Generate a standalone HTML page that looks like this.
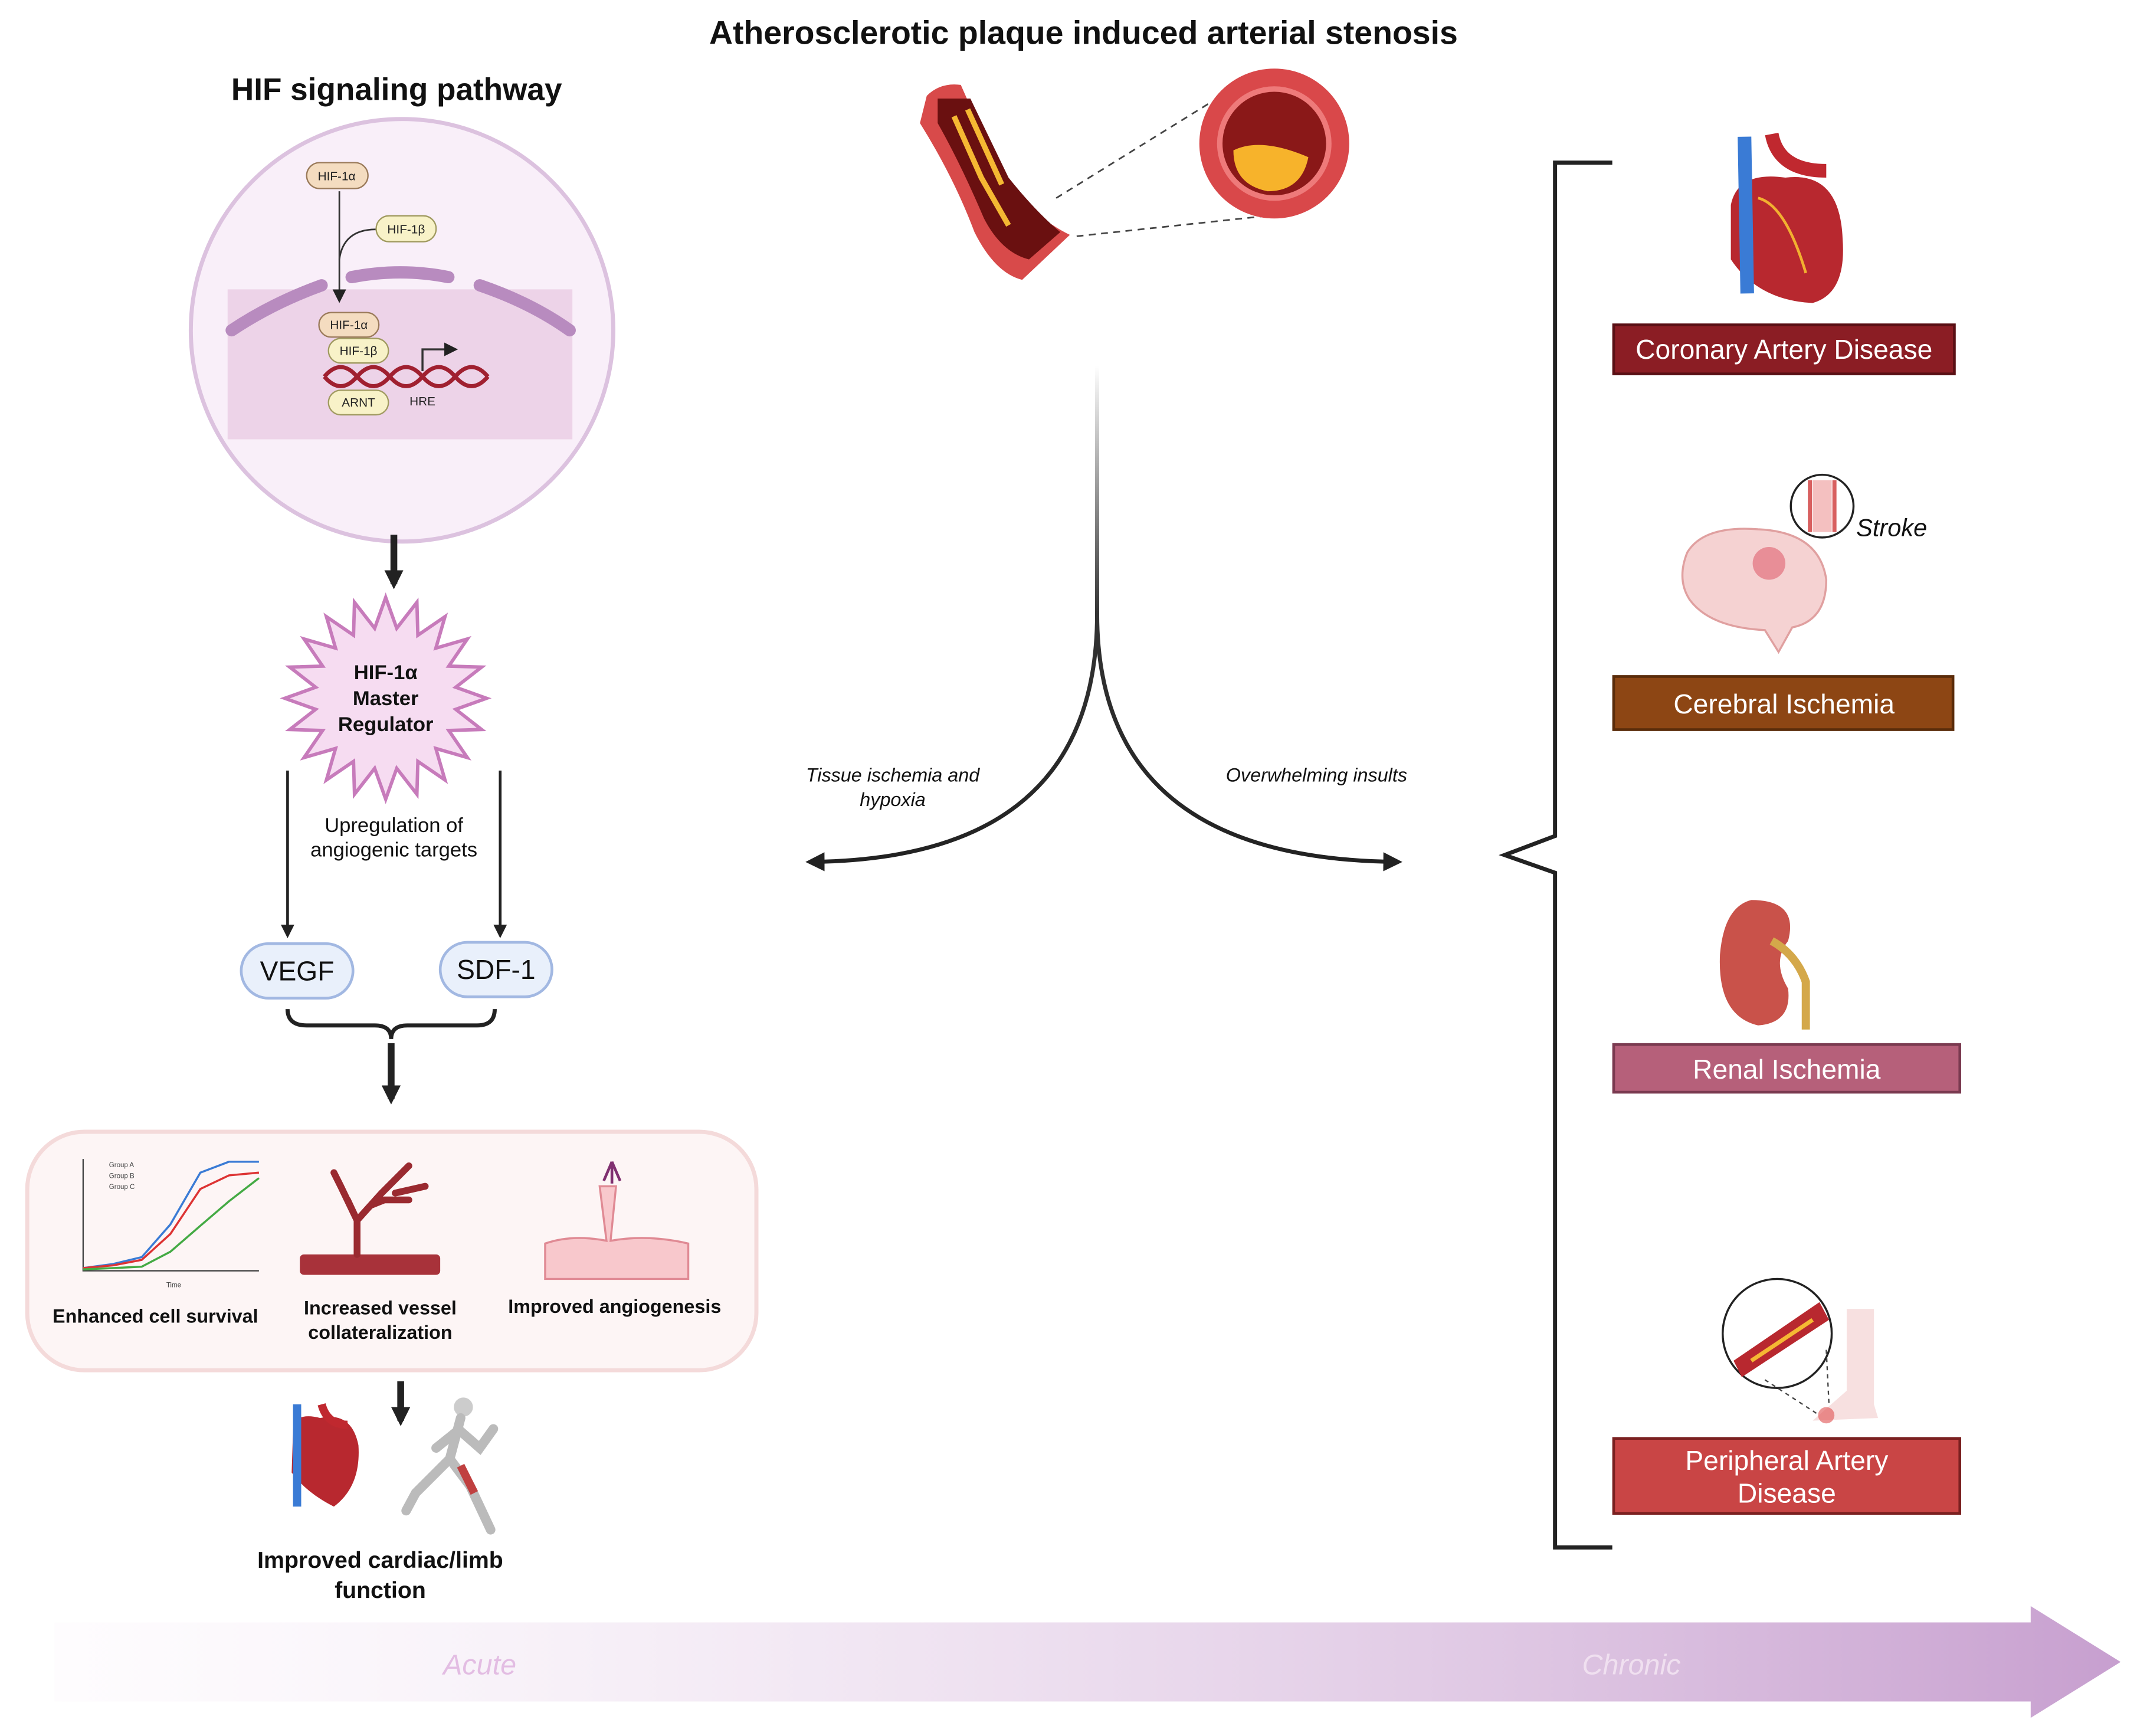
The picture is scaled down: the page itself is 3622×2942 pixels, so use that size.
<!DOCTYPE html>
<html><head><meta charset="utf-8"><style>html,body{margin:0;padding:0;background:#fff}svg{display:block}text{font-family:"Liberation Sans",sans-serif}</style></head>
<body>
<svg width="3622" height="2942" viewBox="0 0 1568 1273" xmlns="http://www.w3.org/2000/svg">
<defs>
<linearGradient id="tl" x1="0" x2="1"><stop offset="0" stop-color="#fbf5fb" stop-opacity="0.3"/><stop offset="1" stop-color="#c79fcf"/></linearGradient>
<linearGradient id="vl" x1="0" y1="0" x2="0" y2="1"><stop offset="0" stop-color="#fff"/><stop offset="0.5" stop-color="#333"/><stop offset="1" stop-color="#222"/></linearGradient>
<marker id="ah" markerWidth="10" markerHeight="10" refX="8" refY="5" orient="auto" markerUnits="userSpaceOnUse"><path d="M0,0 L10,5 L0,10 z" fill="#222"/></marker>
<marker id="ab" markerWidth="14" markerHeight="14" refX="10" refY="7" orient="auto" markerUnits="userSpaceOnUse"><path d="M0,0 L14,7 L0,14 z" fill="#222"/></marker>
</defs>
<rect width="1568" height="1273" fill="#fff"/>
<text x="795" y="32" font-size="24" font-weight="bold" text-anchor="middle" fill="#111">Atherosclerotic plaque induced arterial stenosis</text>
<text x="291" y="73" font-size="23" font-weight="bold" text-anchor="middle" fill="#111">HIF signaling pathway</text>
<!-- HIF circle -->
<circle cx="295" cy="242" r="155" fill="#f9eff9" stroke="#dcc2df" stroke-width="3"/>
<path d="M167,212 L420,212 L420,322 L167,322 Z" fill="#edd3e8"/>
<g stroke="#b88bbf" stroke-width="9" stroke-linecap="round" fill="none"><path d="M170,242 Q200,222 236,209"/><path d="M258,203 Q294,196 329,203"/><path d="M352,209 Q390,222 418,242"/></g>
<path d="M249,140 L249,220" stroke="#333" stroke-width="1.2" marker-end="url(#ah)"/>
<path d="M276,168 Q252,168 249,190" stroke="#333" stroke-width="1.2" fill="none"/>
<g font-size="9" text-anchor="middle" fill="#222">
<rect x="225" y="119" width="45" height="19" rx="9.5" fill="#f4dcc0" stroke="#9a7a5a"/><text x="247" y="132">HIF-1α</text>
<rect x="276" y="158" width="44" height="19" rx="9.5" fill="#f8f2c8" stroke="#a09a60"/><text x="298" y="171">HIF-1β</text>
<rect x="234" y="229" width="44" height="18" rx="9" fill="#f4dcc0" stroke="#9a7a5a"/><text x="256" y="241">HIF-1α</text>
<rect x="241" y="248" width="44" height="18" rx="9" fill="#f8f2c8" stroke="#a09a60"/><text x="263" y="260">HIF-1β</text>
<rect x="241" y="286" width="44" height="18" rx="9" fill="#f8f2c8" stroke="#a09a60"/><text x="263" y="298">ARNT</text>
<text x="310" y="297">HRE</text></g>
<path d="M238,276 Q250,262 262,276 T286,276 T310,276 T334,276 T358,276" stroke="#a02030" stroke-width="3" fill="none"/>
<path d="M238,276 Q250,290 262,276 T286,276 T310,276 T334,276 T358,276" stroke="#a02030" stroke-width="3" fill="none"/>
<path d="M310,272 L310,256 L334,256" stroke="#333" stroke-width="1.5" fill="none" marker-end="url(#ah)"/>
<!-- arrow down -->
<path d="M289,392 L289,428" stroke="#222" stroke-width="5" marker-end="url(#ab)"/>
<!-- starburst -->
<polygon id="star" fill="#f6dcf1" stroke="#c77bbb" stroke-width="2.5" points=""/>
<script>
(function(){var p=[],n=20,cx=283,cy=512;for(var i=0;i<2*n;i++){var r=i%2?52:74,a=Math.PI*i/n-Math.PI/2;p.push((cx+r*Math.cos(a)).toFixed(1)+","+(cy+r*Math.sin(a)).toFixed(1));}document.getElementById('star').setAttribute('points',p.join(' '));})();
</script>
<g font-size="15" font-weight="bold" text-anchor="middle" fill="#111"><text x="283" y="498">HIF-1α</text><text x="283" y="517">Master</text><text x="283" y="536">Regulator</text></g>
<path d="M211,565 L211,686" stroke="#222" stroke-width="2" marker-end="url(#ah)"/>
<path d="M367,565 L367,686" stroke="#222" stroke-width="2" marker-end="url(#ah)"/>
<g font-size="15" text-anchor="middle" fill="#111"><text x="289" y="610">Upregulation of</text><text x="289" y="628">angiogenic targets</text></g>
<rect x="177" y="692" width="82" height="40" rx="20" fill="#e9f0fb" stroke="#a2b8e2" stroke-width="2"/>
<text x="218" y="719" font-size="20" text-anchor="middle" fill="#111">VEGF</text>
<rect x="323" y="691" width="82" height="40" rx="20" fill="#e9f0fb" stroke="#a2b8e2" stroke-width="2"/>
<text x="364" y="718" font-size="20" text-anchor="middle" fill="#111">SDF-1</text>
<path d="M211,740 Q211,752 225,752 L275,752 Q287,752 287,762 Q287,752 299,752 L350,752 Q363,752 363,740" stroke="#222" stroke-width="3" fill="none"/>
<path d="M287,765 L287,806" stroke="#222" stroke-width="5" marker-end="url(#ab)"/>
<!-- outcomes box -->
<rect x="20" y="830" width="535" height="175" rx="42" fill="#fdf5f5" stroke="#f4dada" stroke-width="3"/>
<g stroke="#444" stroke-width="1" fill="none"><path d="M61,850 L61,932 L190,932"/></g>
<polyline points="61,930 83,927 104,922 125,898 147,860 168,852 190,852" stroke="#3a7bd5" stroke-width="1.5" fill="none"/>
<polyline points="61,930 83,928 104,924 125,905 147,872 168,862 190,860" stroke="#d33" stroke-width="1.5" fill="none"/>
<polyline points="61,931 83,930 104,929 125,918 147,899 168,881 190,864" stroke="#4a4" stroke-width="1.5" fill="none"/>
<g font-size="5" fill="#444"><text x="80" y="856">Group A</text><text x="80" y="864">Group B</text><text x="80" y="872">Group C</text><text x="122" y="944">Time</text></g>
<rect x="220" y="920" width="103" height="15" rx="3" fill="#a8323a"/>
<path d="M262,920 L262,895 L250,870 M262,895 L280,875 L290,865 M272,884 L282,880 L300,880 M290,865 L300,855 M250,870 L245,860 M262,895 L255,880 M290,875 L312,870" stroke="#9a2a30" stroke-width="5" fill="none" stroke-linecap="round"/>
<path d="M400,912 Q420,905 445,910 L440,870 L452,870 L448,910 Q475,905 505,912 L505,938 L400,938 Z" fill="#f8c8cc" stroke="#e08a94" stroke-width="1.5"/>
<path d="M449,852 L443,866 M449,852 L455,866 M449,852 L449,868" stroke="#803070" stroke-width="2"/>
<g font-size="14" font-weight="bold" text-anchor="middle" fill="#111"><text x="114" y="970">Enhanced cell survival</text><text x="279" y="964">Increased vessel</text><text x="279" y="982">collateralization</text><text x="451" y="963">Improved angiogenesis</text></g>
<path d="M294,1013 L294,1042" stroke="#222" stroke-width="5" marker-end="url(#ab)"/>
<!-- heart small -->
<path d="M215,1050 Q215,1035 235,1040 Q258,1035 263,1060 Q265,1090 245,1105 Q225,1095 214,1080 Z" fill="#b8282f"/>
<path d="M218,1030 L218,1105" stroke="#3a7bd5" stroke-width="6"/>
<path d="M236,1030 Q240,1045 255,1045" stroke="#c0282f" stroke-width="6" fill="none"/>
<!-- runner -->
<circle cx="340" cy="1032" r="7" fill="#ccc"/>
<path d="M338,1040 L330,1070 L305,1095 L298,1108 M330,1070 L345,1090 L360,1122 M335,1050 L320,1062 M336,1048 L352,1062 L362,1048" stroke="#bbb" stroke-width="7" fill="none" stroke-linecap="round"/>
<path d="M338,1075 L348,1095" stroke="#c04040" stroke-width="6"/>
<g font-size="17" font-weight="bold" text-anchor="middle" fill="#111"><text x="279" y="1150">Improved cardiac/limb</text><text x="279" y="1172">function</text></g>
<!-- artery -->
<path d="M680,70 Q690,60 705,62 L735,130 Q760,160 785,172 L750,205 Q730,200 715,170 Q700,130 675,90 Z" fill="#d84a4a"/>
<path d="M688,72 L712,72 L740,130 Q760,155 778,170 L755,190 Q735,185 722,160 Q705,120 688,90 Z" fill="#6a1010"/>
<path d="M700,85 L720,130 L740,165 M710,80 L735,135" stroke="#f5b833" stroke-width="4" fill="none"/>
<path d="M775,145 L888,75 M790,173 L930,158" stroke="#444" stroke-width="1.2" stroke-dasharray="5,4"/>
<circle cx="935" cy="105" r="55" fill="#d9484a"/>
<circle cx="935" cy="105" r="40" fill="#8a1818" stroke="#ee7a7a" stroke-width="4"/>
<path d="M905,110 Q925,100 960,115 Q955,140 930,140 Q905,135 905,110 Z" fill="#f7b32b"/>
<!-- bifurcation -->
<path d="M805,268 L805,450 Q805,630 595,632" stroke="url(#vl)" stroke-width="3" fill="none" marker-end="url(#ab)"/>
<path d="M805,268 L805,450 Q805,630 1025,632" stroke="url(#vl)" stroke-width="3" fill="none" marker-end="url(#ab)"/>
<g font-size="14" font-style="italic" fill="#111" text-anchor="middle"><text x="655" y="573">Tissue ischemia and</text><text x="655" y="591">hypoxia</text><text x="966" y="573">Overwhelming insults</text></g>
<!-- right brace -->
<path d="M1183,119 L1141,119 L1141,613 L1104,627 L1141,640 L1141,1135 L1183,1135" stroke="#222" stroke-width="3" fill="none"/>
<!-- heart big -->
<path d="M1270,150 Q1275,125 1310,130 Q1350,125 1352,175 Q1355,215 1330,222 Q1290,220 1270,190 Z" fill="#b8282f"/>
<path d="M1290,145 Q1310,150 1325,200" stroke="#f2b030" stroke-width="2" fill="none"/>
<path d="M1280,100 L1282,215" stroke="#3a7bd5" stroke-width="10"/>
<path d="M1300,98 Q1305,125 1340,125" stroke="#c0282f" stroke-width="10" fill="none"/>
<rect x="1184" y="238" width="250" height="36" fill="#8b1d24" stroke="#5a1015" stroke-width="2"/>
<text x="1309" y="263" font-size="20" text-anchor="middle" fill="#fff">Coronary Artery Disease</text>
<!-- brain -->
<path d="M1238,405 Q1250,385 1290,388 Q1335,390 1340,425 Q1340,455 1315,460 L1305,478 L1295,462 Q1255,460 1240,440 Q1230,425 1238,405 Z" fill="#f5d2d2" stroke="#e0a0a0" stroke-width="1.5"/>
<circle cx="1298" cy="413" r="12" fill="#e06070" opacity="0.6"/>
<circle cx="1337" cy="371" r="23" fill="#fff" stroke="#222" stroke-width="1.5"/>
<path d="M1328,352 L1328,390 M1346,352 L1346,390" stroke="#d86060" stroke-width="3"/>
<rect x="1330" y="352" width="14" height="38" fill="#f4c0c0"/>
<text x="1362" y="393" font-size="18" font-style="italic" fill="#111">Stroke</text>
<rect x="1184" y="496" width="249" height="39" fill="#8d4614" stroke="#5a2c0a" stroke-width="2"/>
<text x="1309" y="523" font-size="20" text-anchor="middle" fill="#fff">Cerebral Ischemia</text>
<!-- kidney -->
<path d="M1285,660 Q1265,665 1262,700 Q1260,745 1290,752 Q1315,750 1312,725 Q1300,705 1312,690 Q1320,660 1285,660 Z" fill="#c9524a"/>
<path d="M1300,690 Q1318,700 1325,720 L1325,755" stroke="#d4a84a" stroke-width="6" fill="none"/>
<rect x="1184" y="766" width="254" height="35" fill="#b6607a" stroke="#7a3a50" stroke-width="2"/>
<text x="1311" y="791" font-size="20" text-anchor="middle" fill="#fff">Renal Ischemia</text>
<!-- PAD -->
<circle cx="1304" cy="978" r="40" fill="#fff" stroke="#222" stroke-width="1.5"/>
<path d="M1272,998 L1335,955 L1342,968 L1278,1010 Z" fill="#b8282f"/>
<path d="M1285,998 L1330,968" stroke="#f5b833" stroke-width="3"/>
<path d="M1355,960 L1375,960 L1375,1030 L1378,1040 L1330,1042 L1355,1020 Z" fill="#f7e0e0"/>
<circle cx="1340" cy="1038" r="6" fill="#e05050" opacity="0.6"/>
<path d="M1295,1012 L1335,1038 M1340,990 L1342,1030" stroke="#444" stroke-dasharray="3,3"/>
<rect x="1184" y="1055" width="254" height="55" fill="#c94545" stroke="#7a2020" stroke-width="2"/>
<g font-size="20" text-anchor="middle" fill="#fff"><text x="1311" y="1078">Peripheral Artery</text><text x="1311" y="1102">Disease</text></g>
<!-- timeline -->
<path d="M40,1190 L1490,1190 L1490,1178 L1556,1219 L1490,1260 L1490,1248 L40,1248 Z" fill="url(#tl)"/>
<text x="352" y="1228" font-size="21" font-style="italic" text-anchor="middle" fill="#e3bde3">Acute</text>
<text x="1197" y="1228" font-size="21" font-style="italic" text-anchor="middle" fill="#f0e0f0">Chronic</text>
</svg>
</body></html>
